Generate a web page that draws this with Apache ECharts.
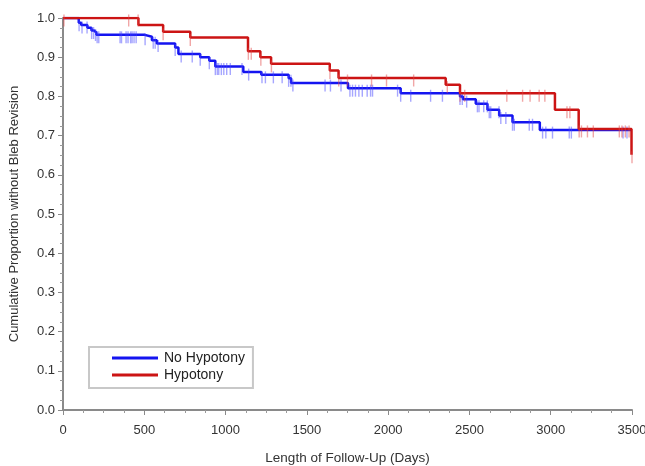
<!DOCTYPE html>
<html>
<head>
<meta charset="utf-8">
<script src="https://cdn.jsdelivr.net/npm/echarts@6/dist/echarts.min.js"></script>
<style>
html,body{margin:0;padding:0;background:#fff;}
#chart{width:645px;height:466px;}
</style>
</head>
<body>
<div id="chart"></div>
<script>
// Kaplan-Meier step points [day, proportion]
const noHypotonySteps = [[0,1.0],[97,0.988],[112,0.982],[150,0.975],[175,0.968],[192,0.963],[205,0.957],
  [503,0.952],[547,0.943],[577,0.935],[690,0.925],[710,0.908],[844,0.90],[900,0.891],[937,0.876],
  [1109,0.862],[1220,0.855],[1388,0.846],[1403,0.834],[1753,0.821],[2077,0.808],[2442,0.80],[2460,0.793],
  [2539,0.781],[2611,0.766],[2683,0.751],[2765,0.734],[2933,0.714],[3500,0.714]];
const hypotonySteps = [[0,1.0],[464,0.982],[616,0.965],[783,0.95],[1138,0.915],[1214,0.90],[1280,0.883],
  [1641,0.866],[1695,0.847],[2354,0.83],[2442,0.808],[3026,0.766],[3172,0.717],[3497,0.651]];
// censoring times (days)
const noHypotonyCensored = [99,117,148,176,188,200,210,220,351,360,388,400,416,425,437,450,505,555,567,585,
  690,727,795,844,900,937,949,958,974,989,1007,1029,1101,1142,1224,1245,1294,1348,1388,1402,1414,
  1612,1645,1710,1765,1781,1799,1820,1841,1871,1892,1904,2058,2077,2139,2261,2334,2442,2456,2483,
  2549,2559,2588,2610,2622,2631,2682,2693,2724,2765,2776,2868,2888,2950,2970,3011,3114,3127,3445,3469];
const hypotonyCensored = [6,404,462,616,783,1140,1158,1217,1282,1642,1696,1750,1898,1990,2157,2364,2442,2471,
  2730,2827,2873,2929,2964,3100,3118,3175,3189,3226,3262,3422,3438,3459,3482,3500];
const seriesNames = ['No Hypotony','Hypotony'];

function survivalAt(steps, t){
  let v = steps[0][1];
  for (const [d,s] of steps){ if (d <= t) v = s; else break; }
  return v;
}
const censorPts = (steps, times) => times.map(t => [t, survivalAt(steps, t)]);

const font = 'Liberation Sans, Arial, sans-serif';
const axisCommon = {
  axisLine:{show:true, lineStyle:{color:'#8a8a8a', width:2}},
  axisTick:{show:true, length:5, lineStyle:{color:'#8a8a8a', width:1}},
  minorTick:{show:true, splitNumber:4, length:3, lineStyle:{color:'#9a9a9a', width:1}},
  splitLine:{show:false},
  axisLabel:{color:'#333', fontSize:13, fontFamily:font},
  nameTextStyle:{color:'#333', fontSize:13, fontFamily:font}
};

const chart = echarts.init(document.getElementById('chart'), null, {renderer:'canvas'});
chart.setOption({
  animation:false,
  backgroundColor:'#fff',
  grid:{left:63, right:13, top:18, bottom:56, containLabel:false, outerBoundsMode:'none'},
  xAxis:Object.assign({}, axisCommon, {
    type:'value', min:0, max:3500, interval:500,
    name:'Length of Follow-Up (Days)', nameLocation:'middle', nameGap:41,
    nameTextStyle:{color:'#333', fontSize:13.5, fontFamily:font},
    axisLabel:Object.assign({}, axisCommon.axisLabel, {margin:14, formatter:v=>String(v)})
  }),
  yAxis:Object.assign({}, axisCommon, {
    type:'value', min:0, max:1, interval:0.1,
    name:'Cumulative Proportion without Bleb Revision', nameLocation:'middle', nameGap:42, nameRotate:90,
    axisLabel:Object.assign({}, axisCommon.axisLabel, {margin:8, formatter:v=>v.toFixed(1)})
  }),
  legend:{
    show:true, orient:'vertical', left:89, top:347,
    data:[{name:seriesNames[0], icon:'rect'},{name:seriesNames[1], icon:'rect'}],
    itemWidth:46, itemHeight:3, itemGap:3,
    borderColor:'#c8c8c8', borderWidth:2, padding:[4,8,6,23],
    textStyle:{color:'#222', fontSize:14, fontFamily:font, padding:[0,0,0,1]}
  },
  series:[
    {name:seriesNames[0], type:'line', step:'end', data:noHypotonySteps, symbol:'none',
     lineStyle:{color:'#1414f0', width:2.5}, itemStyle:{color:'#1414f0'}, z:2},
    {name:seriesNames[0]+' censored', type:'scatter', data:censorPts(noHypotonySteps, noHypotonyCensored),
     symbol:'rect', symbolSize:[1.4,12], symbolOffset:[0,2.5],
     itemStyle:{color:'rgba(70,70,255,0.6)'}, z:3, silent:true},
    {name:seriesNames[1], type:'line', step:'end', data:hypotonySteps, symbol:'none',
     lineStyle:{color:'#cc1414', width:2.5}, itemStyle:{color:'#cc1414'}, z:4},
    {name:seriesNames[1]+' censored', type:'scatter', data:censorPts(hypotonySteps, hypotonyCensored),
     symbol:'rect', symbolSize:[1.4,12], symbolOffset:[0,2.5],
     itemStyle:{color:'rgba(225,70,70,0.6)'}, z:5, silent:true}
  ]
});
</script>
</body>
</html>
